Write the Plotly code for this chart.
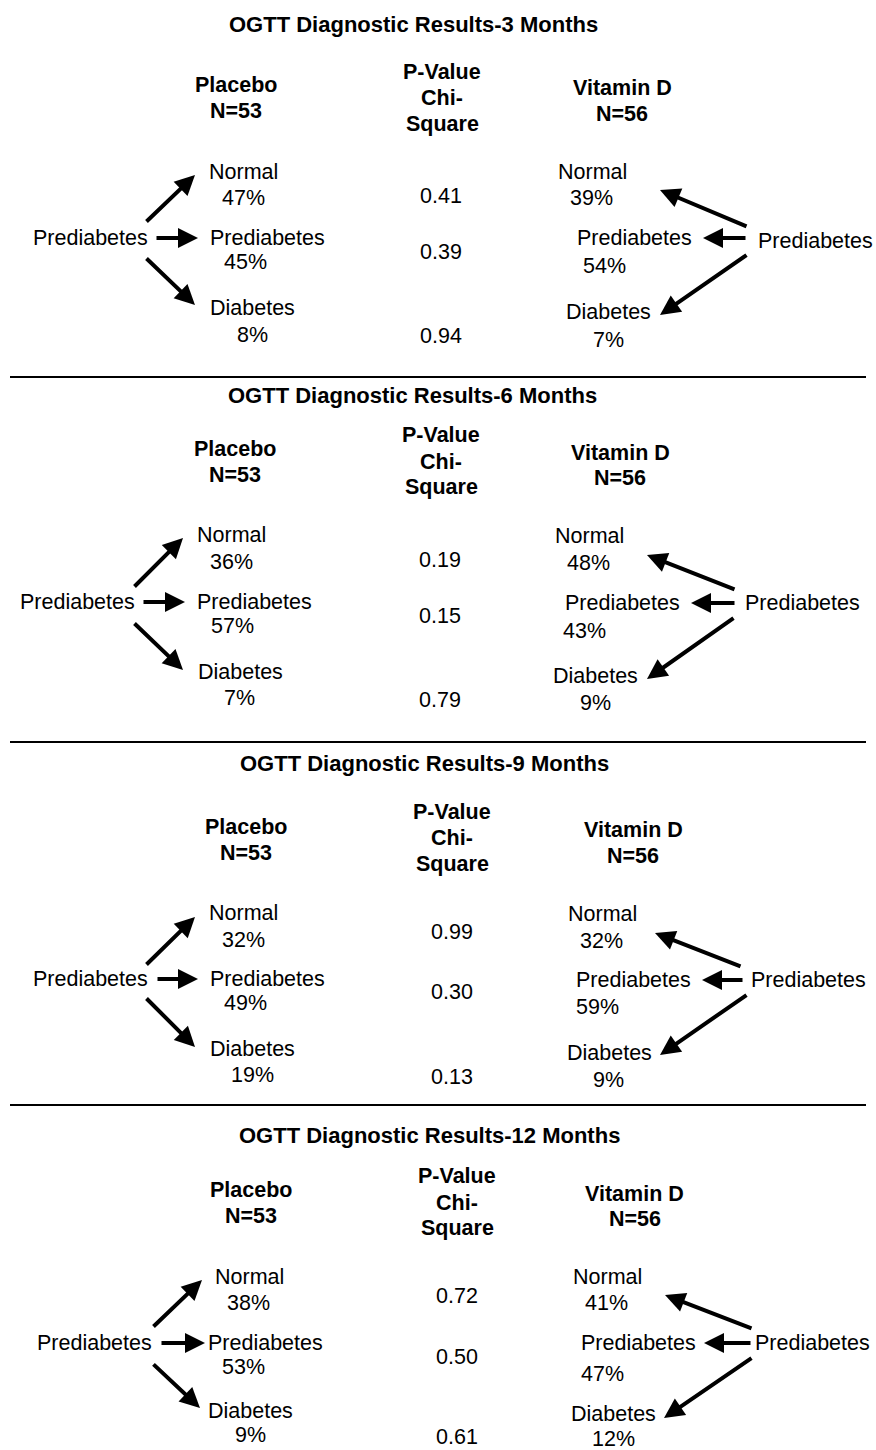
import plotly.graph_objects as go

# ---------------- data ----------------
months = ["3", "6", "9", "12"]
placebo_n = 53
vitd_n = 56
outcome_labels = ["Normal", "Prediabetes", "Diabetes"]
baseline_label = "Prediabetes"
placebo_normal = [47, 36, 32, 38]
placebo_prediab = [45, 57, 49, 53]
placebo_diab = [8, 7, 19, 9]
vitd_normal = [39, 48, 32, 41]
vitd_prediab = [54, 43, 59, 47]
vitd_diab = [7, 9, 9, 12]
p_normal = ["0.41", "0.19", "0.99", "0.72"]
p_prediab = ["0.39", "0.15", "0.30", "0.50"]
p_diab = ["0.94", "0.79", "0.13", "0.61"]

# ---------------- layout positions (pixels) ----------------
POS = [
    dict(title=(413, 24), plc=(236, 85, 111), pv=(442, 72, 98, 124), vd=(622, 88, 114),
         lsrc=(90, 238), lnorm=(243, 172), lnp=(243, 198), lpre=(267, 238), lpp=(245, 262),
         ldia=(252, 308), ldp=(252, 335),
         la=[(145, 223, 195, 175), (155, 238, 198, 238), (145, 257, 195, 305)],
         px=441, py=(196, 252, 336),
         rnorm=(592, 172), rnp=(591, 198), rpre=(634, 238), rpp=(604, 266),
         rdia=(608, 312), rdp=(608, 340), rsrc=(815, 241),
         ra=[(748, 227, 660, 190), (747, 238, 703, 238), (748, 254, 660, 315)]),
    dict(title=(412, 395), plc=(235, 449, 475), pv=(441, 435, 462, 487), vd=(620, 453, 478),
         lsrc=(77.5, 602), lnorm=(231, 535), lnp=(231, 562), lpre=(254, 602), lpp=(232, 626),
         ldia=(240, 672), ldp=(239, 698),
         la=[(133, 588, 183, 538), (142, 602, 185, 602), (133, 622, 183, 670)],
         px=440, py=(560, 616, 700),
         rnorm=(589, 536), rnp=(588, 563), rpre=(622, 603), rpp=(584, 631),
         rdia=(595.5, 676), rdp=(595, 703), rsrc=(802, 603),
         ra=[(736, 590, 647, 555), (736, 603, 691, 603), (735, 617, 647, 679)]),
    dict(title=(424, 763), plc=(246, 827, 853), pv=(452, 812, 838, 864), vd=(633, 830, 856),
         lsrc=(90, 979), lnorm=(243, 913), lnp=(243, 940), lpre=(267.5, 979), lpp=(245, 1003),
         ldia=(252, 1049), ldp=(252, 1075),
         la=[(145, 966, 195, 917), (156, 979, 198, 979), (145, 997, 195, 1047)],
         px=452, py=(932, 992, 1077),
         rnorm=(602, 914), rnp=(601, 941), rpre=(633, 980), rpp=(597, 1007),
         rdia=(609, 1053), rdp=(608, 1080), rsrc=(808, 980),
         ra=[(742, 967, 655, 933), (744, 980, 702, 980), (748, 994, 660, 1055)]),
    dict(title=(429, 1135), plc=(251, 1190, 1216), pv=(457, 1176, 1203, 1228), vd=(634.5, 1194, 1219),
         lsrc=(94.5, 1343), lnorm=(249, 1277), lnp=(248.5, 1303), lpre=(265, 1343), lpp=(243, 1367),
         ldia=(250, 1411), ldp=(250, 1435),
         la=[(152, 1328, 202, 1280), (160, 1343, 205, 1343), (152, 1363, 200, 1408)],
         px=457, py=(1296, 1357, 1437),
         rnorm=(607, 1277), rnp=(606, 1303), rpre=(638, 1343), rpp=(602, 1374),
         rdia=(613, 1414), rdp=(613, 1439), rsrc=(812, 1343),
         ra=[(753, 1329, 665, 1295), (752, 1343, 704, 1343), (753, 1357, 664, 1418)]),
]
SEPARATORS_Y = [377, 742, 1105]

FONT = "Liberation Sans, Arial, sans-serif"
FS = 21.5
annotations = []


def txt(x, y, s, bold=False, size=FS):
    annotations.append(dict(
        x=x, y=y, xref="x", yref="y",
        text=f"<b>{s}</b>" if bold else s,
        showarrow=False, xanchor="center", yanchor="middle",
        font=dict(family=FONT, size=size, color="black")))


def arrow(x0, y0, x1, y1):
    annotations.append(dict(
        x=x1, y=y1, ax=x0, ay=y0, xref="x", yref="y", axref="x", ayref="y",
        text="", showarrow=True, arrowhead=2, arrowsize=1.0, arrowwidth=4,
        arrowcolor="black", standoff=0, startstandoff=0))


for i, p in enumerate(POS):
    txt(*p["title"], f"OGTT Diagnostic Results-{months[i]} Months", bold=True, size=22)
    txt(p["plc"][0], p["plc"][1], "Placebo", bold=True)
    txt(p["plc"][0], p["plc"][2], f"N={placebo_n}", bold=True)
    txt(p["pv"][0], p["pv"][1], "P-Value", bold=True)
    txt(p["pv"][0], p["pv"][2], "Chi-", bold=True)
    txt(p["pv"][0], p["pv"][3], "Square", bold=True)
    txt(p["vd"][0], p["vd"][1], "Vitamin D", bold=True)
    txt(p["vd"][0], p["vd"][2], f"N={vitd_n}", bold=True)

    # placebo side
    txt(*p["lsrc"], baseline_label)
    txt(*p["lnorm"], outcome_labels[0])
    txt(*p["lnp"], f"{placebo_normal[i]}%")
    txt(*p["lpre"], outcome_labels[1])
    txt(*p["lpp"], f"{placebo_prediab[i]}%")
    txt(*p["ldia"], outcome_labels[2])
    txt(*p["ldp"], f"{placebo_diab[i]}%")
    for a in p["la"]:
        arrow(*a)

    # p-values
    for yy, val in zip(p["py"], [p_normal[i], p_prediab[i], p_diab[i]]):
        txt(p["px"], yy, val)

    # vitamin D side
    txt(*p["rsrc"], baseline_label)
    txt(*p["rnorm"], outcome_labels[0])
    txt(*p["rnp"], f"{vitd_normal[i]}%")
    txt(*p["rpre"], outcome_labels[1])
    txt(*p["rpp"], f"{vitd_prediab[i]}%")
    txt(*p["rdia"], outcome_labels[2])
    txt(*p["rdp"], f"{vitd_diab[i]}%")
    for a in p["ra"]:
        arrow(*a)

shapes = [dict(type="line", xref="x", yref="y", x0=10, x1=866, y0=yy, y1=yy,
               line=dict(color="black", width=2)) for yy in SEPARATORS_Y]

fig = go.Figure()
fig.add_trace(go.Scatter(x=[0, 876], y=[0, 1450], mode="markers",
                         marker=dict(opacity=0), hoverinfo="skip", showlegend=False))
fig.update_layout(
    width=876, height=1450,
    margin=dict(l=0, r=0, t=0, b=0),
    paper_bgcolor="white", plot_bgcolor="white",
    xaxis=dict(range=[0, 876], visible=False, fixedrange=True),
    yaxis=dict(range=[1450, 0], visible=False, fixedrange=True),
    annotations=annotations, shapes=shapes, showlegend=False,
)
fig.write_html("out.html", config={"displayModeBar": False},
               post_script="document.body.style.margin='0px';document.body.style.overflow='hidden';")
